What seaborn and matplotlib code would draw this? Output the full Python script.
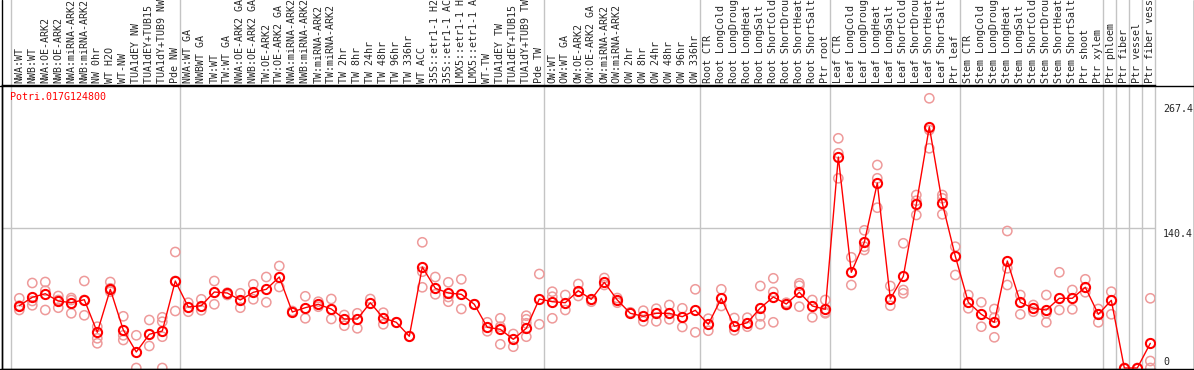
import matplotlib
matplotlib.use("Agg")
import matplotlib.pyplot as plt
from matplotlib.lines import Line2D
import seaborn as sns
import pandas as pd

# sample names (long ones get clipped by the top edge, as in the original)
labels = [
    "NWA:WT", "NWB:WT", "NWA:OE-ARK2", "NWB:OE-ARK2", "NWA:miRNA-ARK2", "NWB:miRNA-ARK2",
    "NW 0hr", "WT H2O", "WT-NW", "TUA1dEY NW", "TUA1dEY+TUB15 NW", "TUA1dY+TUB9 NW", "Pde NW",
    "NWA:WT GA", "NWBWT GA", "TW:WT", "TW:WT GA", "NWA:OE-ARK2 GA", "NWB:OE-ARK2 GA",
    "TW:OE-ARK2", "TW:OE-ARK2 GA", "NWA:miRNA-ARK2 GA", "NWB:miRNA-ARK2 GA", "TW:miRNA-ARK2",
    "TW:miRNA-ARK2 GA", "TW 2hr", "TW 8hr", "TW 24hr", "TW 48hr", "TW 96hr", "TW 336hr",
    "WT ACC", "35S::etr1-1 H2O", "35S::etr1-1 ACC", "LMX5::etr1-1 H2O", "LMX5::etr1-1 ACC",
    "WT-TW", "TUA1dEY TW", "TUA1dEY+TUB15 TW", "TUA1dY+TUB9 TW", "Pde TW",
    "OW:WT", "OW:WT GA", "OW:OE-ARK2", "OW:OE-ARK2 GA", "OW:miRNA-ARK2", "OW:miRNA-ARK2 GA",
    "OW 2hr", "OW 8hr", "OW 24hr", "OW 48hr", "OW 96hr", "OW 336hr",
    "Root CTR", "Root LongCold", "Root LongDrought", "Root LongHeat", "Root LongSalt",
    "Root ShortCold", "Root ShortDrought", "Root ShortHeat", "Root ShortSalt", "Ptr root",
    "Leaf CTR", "Leaf LongCold", "Leaf LongDrought", "Leaf LongHeat", "Leaf LongSalt",
    "Leaf ShortCold", "Leaf ShortDrought", "Leaf ShortHeat", "Leaf ShortSalt", "Ptr leaf",
    "Stem CTR", "Stem LongCold", "Stem LongDrought", "Stem LongHeat", "Stem LongSalt",
    "Stem ShortCold", "Stem ShortDrought", "Stem ShortHeat", "Stem ShortSalt", "Ptr shoot",
    "Ptr xylem", "Ptr phloem", "Ptr fiber", "Ptr vessel", "Ptr fiber vessel",
]

mean_expr = [
    62.3, 70.7, 74.3, 67, 65.3, 68.3, 35.7, 78.7, 38, 16, 33.7, 37, 87,
    61, 62.3, 76, 75, 68, 75.7, 78.7, 91, 56, 60.3, 63.7, 59, 49, 49, 65.3, 50, 45.7, 31.7,
    101, 79.7, 75, 73.7, 63.7, 40.7, 38.7, 28.7, 39.7, 69,
    66.3, 65.3, 77.3, 68.7, 85.7, 68, 54.7, 51.7, 54.7, 54.7, 51.3, 57.7,
    43.7, 69.7, 41.7, 45.3, 60, 71, 64, 75.7, 62, 58.7,
    211, 95.7, 125.7, 185, 69, 91.7, 163.7, 241.3, 164.7, 111.7,
    65.7, 53.7, 45.7, 107, 65.7, 59.7, 58, 69.7, 69.7, 80.7,
    53.7, 67.7, 0, 0, 24.7,
]

replicates = [
    [69.7, 58, 62.3], [85, 67, 62.7], [86, 77.3, 58], [72, 60.3, 68], [70, 68, 54.7],
    [87, 52.7, 68], [41.3, 29.7, 24.7], [86, 79.7, 76.3], [51.7, 32.7, 28], [32.7, 0],
    [48, 22, 33.7], [50.7, 46.3, 31.3, 0], [116, 57, 87],
    [65.3, 56.3], [68.7, 57.7], [87, 63.7], [75.3, 73], [74.7, 60.3], [83.7, 68.7],
    [91, 65.7], [102, 81], [57], [71.7, 49.7], [66.3, 61.3], [69, 49], [53, 42.3],
    [54.7, 39.7], [69], [55.3, 43.7], [45.7], [31.7],
    [125.7, 96.3, 80.7], [91, 73.7], [85.7, 71, 66.3], [88.7, 59], [63.7],
    [45.7, 36.7], [49.7, 41.3, 23.7], [34, 21.3], [52.3, 48.7, 44.7, 31.3], [94, 43.7],
    [76.3, 71.3, 49.7], [73, 58], [84, 72], [66.3], [90, 83], [70, 65.3],
    [55.7], [57.3, 46.7], [59.3, 46.7], [63, 48.7], [59.7, 41], [78.7, 35.7],
    [49.3, 37.3], [78.7, 62], [50, 37.7], [50.3, 41.3], [82, 51.7, 43.7],
    [89.7, 76, 45.7], [63, 65.3], [84.7, 82.3, 61.3], [68, 50.7], [68, 55.7, 54.7],
    [229.7, 214.7, 189.7], [110.7, 83], [137.7, 121.3, 118], [203, 189.7, 160.3],
    [82, 62.3], [124.7, 78, 74.7], [173, 167.3, 153], [269.7, 238, 219.7],
    [173, 169.7, 153.7], [121.3, 93],
    [73, 59.7], [65.7, 41.3], [59, 50.3, 30.7], [137, 99.7, 83], [73, 53.7],
    [63, 56.3], [73, 54.7, 45.7], [95.7, 58], [78, 58.7], [88.7, 75.7],
    [59, 45.7], [76.3, 53.7], [0], [0], [69.7, 7, 0],
]

group_starts = [0, 13, 41, 53, 63, 73, 84, 85, 86, 87, 88]
y_ticks = [0, 140.4, 267.4]
gene = "Potri.017G124800"

sns.set_style("white")
plt.rcParams["font.family"] = ["DejaVu Sans Mono"]

W, H = 1194, 370
fig = plt.figure(figsize=(W / 100, H / 100), dpi=100)
ax = fig.add_axes([2 / W, 1 / H, 1153 / W, 284 / H])

rep_df = pd.DataFrame(
    [(i, v) for i, reps in enumerate(replicates) for v in reps], columns=["sample", "value"]
)
mean_df = pd.DataFrame({"sample": range(len(labels)), "value": mean_expr})

grid_col = "#c4c4c4"
for k in group_starts:
    ax.axvline(k - 0.64, ymin=0, ymax=1 + 86 / 284, color=grid_col, lw=1, clip_on=False, zorder=0)
ax.axhline(140.4, color=grid_col, lw=1, zorder=0)

sns.scatterplot(data=rep_df, x="sample", y="value", marker="o", s=44,
                color="#ee9a9a", facecolor="none", edgecolor="#ee9a9a", linewidth=1.1,
                ax=ax, zorder=2, clip_on=True)
sns.lineplot(data=mean_df, x="sample", y="value", color="red", lw=1,
             marker="o", markersize=6.6, markerfacecolor="none",
             markeredgecolor="red", markeredgewidth=1.5, ax=ax, zorder=3)

ax.set_xlim(-1.33, 87.36)
ax.set_ylim(-1, 283)
ax.set_xticks([])
ax.set_yticks([])
ax.set_xlabel("")
ax.set_ylabel("")
for side in ["left", "bottom", "top"]:
    ax.spines[side].set_color("black")
    ax.spines[side].set_linewidth(1)
ax.spines["right"].set_visible(False)

# sample names above the plot
for i, lab in enumerate(labels):
    ax.text(i, 1 + 2 / 284, lab, transform=ax.get_xaxis_transform(), rotation=90,
            ha="center", va="bottom", fontsize=7.2, clip_on=False)

ax.text(8 / 1153, (369 - 97) / 284, gene, transform=ax.transAxes, color="red",
        fontsize=7.2, ha="left", va="center")

# value labels on the right
xr = (1163 - 2) / 1153
ax.text(xr, y_ticks[2] - 3, "267.4", transform=ax.get_yaxis_transform(), va="top",
        ha="left", fontsize=7.2, clip_on=False)
ax.text(xr, y_ticks[1] - 1, "140.4", transform=ax.get_yaxis_transform(), va="top",
        ha="left", fontsize=7.2, clip_on=False)
ax.text(xr, y_ticks[0] + 6, "0", transform=ax.get_yaxis_transform(), va="center",
        ha="left", fontsize=7.2, clip_on=False)

# frame lines around the whole picture
top_y = 1 - 85.5 / H
fig.add_artist(Line2D([0, 1], [top_y, top_y], transform=fig.transFigure, color="black", lw=1))
fig.add_artist(Line2D([0, 1], [1 / H, 1 / H], transform=fig.transFigure, color="black", lw=1))
fig.add_artist(Line2D([1193.5 / W] * 2, [0, 1], transform=fig.transFigure, color="black", lw=1))
fig.add_artist(Line2D([2 / W] * 2, [0, 1], transform=fig.transFigure, color="black", lw=1))

fig.savefig("out.png", dpi=100)
